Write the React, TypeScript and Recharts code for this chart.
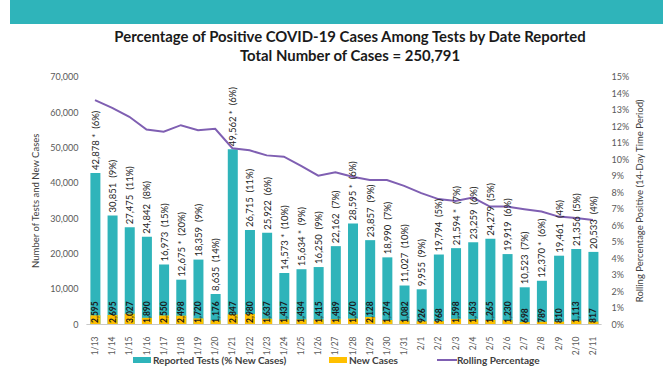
import React from 'react';
import { ComposedChart, Bar, Line, XAxis, YAxis, LabelList } from 'recharts';

const dates = ['1/13','1/14','1/15','1/16','1/17','1/18','1/19','1/20','1/21','1/22','1/23','1/24','1/25','1/26','1/27','1/28','1/29','1/30','1/31','2/1','2/2','2/3','2/4','2/5','2/6','2/7','2/8','2/9','2/10','2/11'];
const reportedTests = [42878,30851,27475,24842,16973,12675,18359,8635,49562,26715,25922,14573,15634,16250,22162,28595,23857,18990,11027,9955,19794,21594,23259,24279,19919,10523,12370,19461,21356,20533];
const newCases = [2595,2695,3027,1890,2550,2498,1720,1176,2847,2980,1637,1437,1434,1415,1489,1670,2128,1274,1082,926,968,1598,1453,1265,1230,698,789,810,1113,817];
const newCasePct = [6,9,11,8,15,20,9,14,6,11,6,10,9,9,7,6,9,7,10,9,5,7,6,5,6,7,6,4,5,4];
const starred = [true,false,false,false,false,true,false,false,true,false,false,true,true,false,false,true,false,false,false,false,false,true,false,false,false,false,true,false,false,false];
const rollingPct = [13.6,13.13,12.59,11.82,11.68,12.08,11.78,11.86,10.68,10.56,10.25,10.17,9.61,9.02,9.23,8.96,8.76,8.76,8.4,7.96,7.6,7.49,7.69,7.15,7.15,6.99,6.85,6.54,6.45,6.34];

const leftTicks = [0,10000,20000,30000,40000,50000,60000,70000];
const rightTicks = [0,1,2,3,4,5,6,7,8,9,10,11,12,13,14,15];

const TEAL = '#2fb4ba';
const ORANGE = '#ffc000';
const PURPLE = '#7f5fb2';
const FONT = 'Lato, "Open Sans", sans-serif';

const data = dates.map((d, i) => ({
  date: d,
  tests: reportedTests[i],
  cases: newCases[i],
  rolling: rollingPct[i],
  testLabel: `${reportedTests[i].toLocaleString('en-US')}${starred[i] ? ' *' : ''}\u00a0\u00a0(${newCasePct[i]}%)`,
  caseLabel: newCases[i].toLocaleString('en-US'),
}));

const TestLabel = (p: any) => {
  const cx = Number(p.x) + Number(p.width) / 2;
  const y0 = Number(p.y) - 3;
  return (
    <text x={cx} y={y0} transform={`rotate(-90, ${cx}, ${y0})`} textAnchor="start" dominantBaseline="central"
      fontFamily={FONT} fontSize={9.5} fill="#262626">{p.value}</text>
  );
};

const CaseLabel = (p: any) => {
  const cx = Number(p.x) + Number(p.width) / 2;
  const y0 = Number(p.y) + Number(p.height) - 1.5;
  return (
    <text x={cx} y={y0} transform={`rotate(-90, ${cx}, ${y0})`} textAnchor="start" dominantBaseline="central"
      fontFamily={FONT} fontSize={8.5} fontWeight={700} fill="#1a1a1a">{p.value}</text>
  );
};

const XTick = (p: any) => {
  const { x, y, payload } = p;
  return (
    <g transform={`translate(${x},${y})`}>
      <text x={0} y={0} transform="rotate(-90)" dx={-4} textAnchor="end" dominantBaseline="central"
        fontFamily={FONT} fontSize={8.5} fill="#595959">{payload.value}</text>
    </g>
  );
};

const LeftLabel = (p: any) => {
  const vb = p.viewBox || {};
  const x = vb.x + 29;
  const y = vb.y + vb.height / 2;
  return (
    <text x={x} y={y} transform={`rotate(-90, ${x}, ${y})`} textAnchor="middle" dominantBaseline="central"
      fontFamily={FONT} fontSize={9.5} fill="#404040">Number of Tests and New Cases</text>
  );
};

const RightLabel = (p: any) => {
  const vb = p.viewBox || {};
  const x = vb.x + 38;
  const y = vb.y + vb.height / 2;
  return (
    <text x={x} y={y} transform={`rotate(-90, ${x}, ${y})`} textAnchor="middle" dominantBaseline="central"
      fontFamily={FONT} fontSize={9.5} fill="#404040">Rolling Percentage Positive (14-Day Time Period)</text>
  );
};

export default function App() {
  return (
    <div style={{ position: 'absolute', left: 0, top: 0, width: 672, height: 372, background: '#fff' }}>
      <svg width={672} height={72} style={{ position: 'absolute', left: 0, top: 0 }}>
        <rect x={10} y={0} width={653} height={24} fill={TEAL} />
        <text x={350} y={42} textAnchor="middle" fontFamily={FONT} fontWeight={700} fontSize={14.9} fill="#1a1a1a">
          Percentage of Positive COVID-19 Cases Among Tests by Date Reported
        </text>
        <text x={350} y={61} textAnchor="middle" fontFamily={FONT} fontWeight={700} fontSize={14.9} fill="#1a1a1a">
          Total Number of Cases = 250,791
        </text>
      </svg>
      <div style={{ position: 'absolute', left: 0, top: 0 }}>
        <ComposedChart width={672} height={372} data={data}
          margin={{ top: 77, right: 10.4, bottom: 17.5, left: 6.4 }}>
          <XAxis xAxisId="a" dataKey="date" height={30} tick={<XTick />} tickLine={false}
            axisLine={{ stroke: '#c8c8c8' }} interval={0} />
          <XAxis xAxisId="b" dataKey="date" hide />
          <YAxis yAxisId="left" orientation="left" width={80} domain={[0, 70000]} ticks={leftTicks}
            tickFormatter={(v: number) => v.toLocaleString('en-US')} axisLine={false} tickLine={false}
            tick={{ fontFamily: FONT, fontSize: 9, fill: '#595959' }} tickMargin={2}
            label={{ content: <LeftLabel /> }} />
          <YAxis yAxisId="right" orientation="right" width={60} domain={[0, 15]} ticks={rightTicks}
            tickFormatter={(v: number) => `${v}%`} axisLine={false} tickLine={false}
            tick={{ fontFamily: FONT, fontSize: 9, fill: '#595959' }} tickMargin={4}
            label={{ content: <RightLabel /> }} />
          <Bar xAxisId="a" yAxisId="left" dataKey="tests" fill={TEAL} barSize={10} isAnimationActive={false}>
            <LabelList dataKey="testLabel" content={<TestLabel />} />
          </Bar>
          <Bar xAxisId="b" yAxisId="left" dataKey="cases" fill={ORANGE} barSize={10} isAnimationActive={false}>
            <LabelList dataKey="caseLabel" content={<CaseLabel />} />
          </Bar>
          <Line xAxisId="a" yAxisId="right" dataKey="rolling" type="linear" stroke={PURPLE} strokeWidth={2}
            dot={false} activeDot={false} isAnimationActive={false} />
        </ComposedChart>
      </div>
      <div style={{ position: 'absolute', left: 0, top: 352, width: 672, height: 16, fontFamily: FONT,
        fontWeight: 700, fontSize: 10, color: '#404040', lineHeight: '16px' }}>
        <span style={{ position: 'absolute', left: 133, top: 5, width: 18, height: 6, background: TEAL }} />
        <span style={{ position: 'absolute', left: 153, top: 0, whiteSpace: 'nowrap' }}>Reported Tests (% New Cases)</span>
        <span style={{ position: 'absolute', left: 329, top: 5, width: 18, height: 6, background: ORANGE }} />
        <span style={{ position: 'absolute', left: 349, top: 0, whiteSpace: 'nowrap' }}>New Cases</span>
        <span style={{ position: 'absolute', left: 437, top: 7, width: 20, height: 2, background: PURPLE }} />
        <span style={{ position: 'absolute', left: 457, top: 0, whiteSpace: 'nowrap' }}>Rolling Percentage</span>
      </div>
    </div>
  );
}
